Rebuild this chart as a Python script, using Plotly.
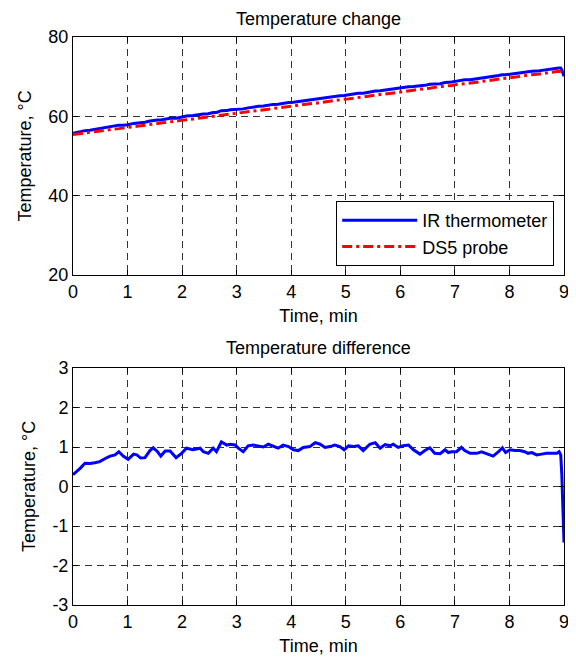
import plotly.graph_objects as go

# time axis (min)
time_min = [0.00,0.05,0.13,0.22,0.31,0.40,0.49,0.59,0.68,0.77,0.84,0.92,1.01,1.11,1.17,1.24,1.32,1.41,1.47,1.55,
            1.61,1.69,1.78,1.89,1.99,2.08,2.20,2.33,2.39,2.48,2.57,2.63,2.72,2.82,2.88,2.97,3.03,3.12,3.21,3.30,
            3.40,3.49,3.58,3.67,3.76,3.85,3.95,4.04,4.13,4.22,4.34,4.44,4.53,4.62,4.71,4.80,4.89,4.97,5.05,5.14,
            5.23,5.32,5.44,5.54,5.63,5.72,5.81,5.87,5.96,6.05,6.15,6.24,6.36,6.45,6.54,6.63,6.73,6.82,6.88,6.94,
            7.03,7.12,7.18,7.28,7.40,7.49,7.58,7.70,7.80,7.87,7.93,8.01,8.10,8.19,8.28,8.34,8.41,8.50,8.59,8.68,
            8.77,8.87,8.91,8.94,8.96,8.98,9.00]

ds5_probe = [55.4,55.5,55.6,55.8,55.9,56.1,56.3,56.5,56.6,56.8,56.9,57.0,57.2,57.4,57.5,57.6,57.8,57.9,58.0,58.2,
             58.3,58.4,58.6,58.8,59.0,59.1,59.3,59.6,59.7,59.8,60.0,60.1,60.3,60.4,60.6,60.7,60.8,61.0,61.1,61.3,
             61.5,61.6,61.8,62.0,62.1,62.3,62.5,62.6,62.8,63.0,63.2,63.3,63.5,63.7,63.8,64.0,64.2,64.3,64.4,64.6,
             64.8,64.9,65.1,65.3,65.5,65.6,65.8,65.9,66.1,66.2,66.4,66.6,66.8,66.9,67.1,67.3,67.4,67.6,67.7,67.8,
             68.0,68.1,68.3,68.4,68.6,68.8,69.0,69.2,69.4,69.5,69.6,69.7,69.9,70.1,70.2,70.3,70.5,70.6,70.8,70.9,
             71.1,71.3,71.3,71.4,71.4,71.5,71.5]

ir_thermometer = [55.70,55.86,56.06,56.39,56.48,56.70,56.93,57.21,57.37,57.60,57.78,57.77,57.89,58.22,58.30,58.32,58.53,58.81,58.98,59.08,
                  59.07,59.30,59.50,59.53,59.84,60.07,60.23,60.57,60.58,60.64,60.97,60.98,61.43,61.45,61.67,61.75,61.77,61.88,62.13,62.35,
                  62.53,62.60,62.87,63.01,63.07,63.35,63.51,63.53,63.71,63.99,64.21,64.41,64.57,64.69,64.81,65.05,65.21,65.23,65.43,65.61,
                  65.83,65.81,66.17,66.41,66.47,66.66,66.83,66.97,67.09,67.23,67.45,67.53,67.62,67.81,68.08,68.14,68.23,68.53,68.56,68.68,
                  68.88,69.09,69.21,69.24,69.44,69.68,69.84,69.97,70.28,70.48,70.46,70.63,70.81,71.01,71.08,71.14,71.36,71.40,71.62,71.74,
                  71.94,72.14,72.18,72.20,71.70,70.90,70.08]

temp_difference = [0.30,0.36,0.46,0.59,0.58,0.60,0.63,0.71,0.77,0.80,0.88,0.77,0.69,0.82,0.80,0.72,0.73,0.91,0.98,0.88,
                   0.77,0.90,0.90,0.73,0.84,0.97,0.93,0.97,0.88,0.84,0.97,0.88,1.13,1.05,1.07,1.05,0.97,0.88,1.03,1.05,
                   1.03,1.00,1.07,1.01,0.97,1.05,1.01,0.93,0.91,0.99,1.01,1.11,1.07,0.99,1.01,1.05,1.01,0.93,1.03,1.01,
                   1.03,0.91,1.07,1.11,0.97,1.06,1.03,1.07,0.99,1.03,1.05,0.93,0.82,0.91,0.98,0.84,0.83,0.93,0.86,0.88,
                   0.88,0.99,0.91,0.84,0.84,0.88,0.84,0.77,0.88,0.98,0.86,0.93,0.91,0.91,0.88,0.84,0.86,0.80,0.82,0.84,
                   0.84,0.84,0.88,0.80,0.30,-0.60,-1.42]

x_ticks = [0, 1, 2, 3, 4, 5, 6, 7, 8, 9]
top_y_ticks = [20, 40, 60, 80]
bottom_y_ticks = [-3, -2, -1, 0, 1, 2, 3]
bottom_y_ticktext = ["-3", "-2", "-1", "0", "1", "2", "3"]

FONT = "Liberation Sans, Arial, Helvetica, sans-serif"
FS = 18

fig = go.Figure()
fig.add_trace(go.Scatter(x=time_min, y=ir_thermometer, mode="lines", name="IR thermometer",
                         line=dict(color="#0000ff", width=3), xaxis="x", yaxis="y"))
fig.add_trace(go.Scatter(x=time_min, y=ds5_probe, mode="lines", name="DS5 probe",
                         line=dict(color="#ff0000", width=3, dash="10px,4px,3px,4px"), xaxis="x", yaxis="y"))
fig.add_trace(go.Scatter(x=time_min, y=temp_difference, mode="lines", name="difference", showlegend=False,
                         line=dict(color="#0000ff", width=3), xaxis="x2", yaxis="y2"))

top_dom = [330/568, 1.0]
bot_dom = [0.0, 237/568]

axis_common = dict(showline=True, linecolor="black", linewidth=1, mirror="allticks",
                   ticks="inside", ticklen=5, tickcolor="black", automargin=False,
                   showgrid=True, gridcolor="#333333", gridwidth=1, griddash="7px,5px",
                   zeroline=False, tickfont=dict(family=FONT, size=FS, color="black"))

# the page adds an 8px body margin, so the figure is sized/offset to land the plot areas correctly
fig.update_layout(
    width=568, height=653,
    margin=dict(l=65, r=12, t=29, b=56, autoexpand=False),
    paper_bgcolor="white", plot_bgcolor="white",
    font=dict(family=FONT, size=FS, color="black"),
    xaxis=dict(axis_common, range=[0, 9], tickvals=x_ticks, domain=[0, 1], anchor="y",
               title=dict(text="Time, min", standoff=8, font=dict(size=FS))),
    yaxis=dict(axis_common, range=[20, 80], tickvals=top_y_ticks, domain=top_dom, anchor="x",
               title=dict(text="Temperature, °C", standoff=12, font=dict(size=FS))),
    xaxis2=dict(axis_common, range=[0, 9], tickvals=x_ticks, domain=[0, 1], anchor="y2",
                title=dict(text="Time, min", standoff=8, font=dict(size=FS))),
    yaxis2=dict(axis_common, range=[-3, 3], tickvals=bottom_y_ticks, ticktext=bottom_y_ticktext,
                domain=bot_dom, anchor="x2",
                title=dict(text="Temperature, °C", standoff=12, font=dict(size=FS))),
    legend=dict(x=0.98, y=(605-266)/568, xanchor="right", yanchor="bottom",
                bgcolor="white", bordercolor="black", borderwidth=1, itemwidth=75,
                font=dict(family=FONT, size=FS)),
    showlegend=True,
    annotations=[
        dict(text="Temperature change", x=0.5, y=1, xref="paper", yref="paper",
             xanchor="center", yanchor="bottom", yshift=6, showarrow=False, font=dict(size=FS)),
        dict(text="Temperature difference", x=0.5, y=bot_dom[1], xref="paper", yref="paper",
             xanchor="center", yanchor="bottom", yshift=8, showarrow=False, font=dict(size=FS)),
    ],
)

fig.write_html("out.html")
